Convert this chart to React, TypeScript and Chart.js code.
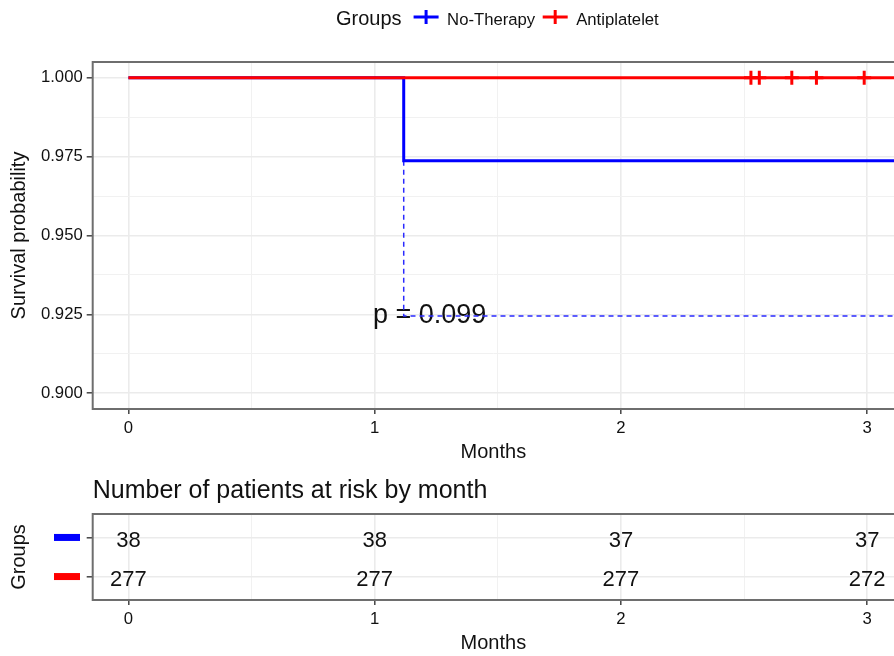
import React, { useEffect, useRef } from 'react';
import { Chart, registerables } from 'chart.js';

Chart.register(...registerables);

// ---------- data ----------
const MONTH_TICKS = [0, 1, 2, 3];
const MONTH_TICK_LABELS = ['0', '1', '2', '3'];
const MONTH_MINOR = [0.5, 1.5, 2.5];

const SURV_TICKS = [0.9, 0.925, 0.95, 0.975, 1.0];
const SURV_TICK_LABELS = ['0.900', '0.925', '0.950', '0.975', '1.000'];
const SURV_MINOR = [0.9125, 0.9375, 0.9625, 0.9875];

const GROUPS = ['No-Therapy', 'Antiplatelet'];

const NO_THERAPY_TIME = [0, 1.118, 3.4];
const NO_THERAPY_SURV = [1.0, 0.9737, 0.9737];

const ANTIPLATELET_TIME = [0, 3.4];
const ANTIPLATELET_SURV = [1.0, 1.0];
const ANTIPLATELET_CENSOR_TIME = [2.528, 2.562, 2.694, 2.794, 2.988];
const ANTIPLATELET_CENSOR_SURV = [1.0, 1.0, 1.0, 1.0, 1.0];

const GUIDE_TIME = [1.118, 1.118, 3.4];
const GUIDE_SURV = [0.9737, 0.9245, 0.9245];

const P_VALUE_LABEL = 'p = 0.099';
const P_VALUE_POS = { x: 0.993, y: 0.9245 };

const RISK_MONTHS = [0, 1, 2, 3];
const RISK_NO_THERAPY = [38, 38, 37, 37];
const RISK_ANTIPLATELET = [277, 277, 277, 272];
const RISK_TITLE = 'Number of patients at risk by month';

// ---------- styles ----------
const FONT = "'Liberation Sans', Arial, Helvetica, sans-serif";
const BLUE = '#0000FF';
const RED = '#FF0000';
const TEXT = '#111111';
const GRID = '#EBEBEB';
const BORDER = '#6E6E6E';
const TICK = '#444444';
const X_MIN = -0.145;
const X_MAX = 3.109;

const isIn = (arr: number[], v: number) => arr.some((a) => Math.abs(a - v) < 1e-6);

function xScale(height: number, titlePadBottom: number) {
  return {
    type: 'linear' as const,
    min: X_MIN,
    max: X_MAX,
    afterBuildTicks: (s: any) => {
      s.ticks = [...MONTH_TICKS, ...MONTH_MINOR].sort((a, b) => a - b).map((v) => ({ value: v }));
    },
    afterFit: (s: any) => {
      s.height = height;
    },
    ticks: {
      autoSkip: false,
      maxRotation: 0,
      padding: 4,
      color: TEXT,
      font: { size: 16.7, family: FONT },
      callback: (v: any) => {
        const i = MONTH_TICKS.findIndex((m) => Math.abs(m - v) < 1e-6);
        return i >= 0 ? MONTH_TICK_LABELS[i] : '';
      },
    },
    grid: {
      color: (c: any) => (isIn(MONTH_TICKS, c.tick?.value) ? GRID : '#F1F1F1'),
      lineWidth: (c: any) => (isIn(MONTH_TICKS, c.tick?.value) ? 1.6 : 1),
      tickColor: (c: any) => (isIn(MONTH_TICKS, c.tick?.value) ? TICK : 'rgba(0,0,0,0)'),
      tickLength: 5,
      tickWidth: 1.5,
    },
    border: { display: false },
    title: {
      display: true,
      text: 'Months',
      color: TEXT,
      font: { size: 20, family: FONT },
      padding: { top: 0, bottom: titlePadBottom },
    },
  };
}

function panelBorder(ctx: CanvasRenderingContext2D, a: any) {
  ctx.save();
  ctx.strokeStyle = BORDER;
  ctx.lineWidth = 2;
  ctx.beginPath();
  ctx.moveTo(a.right + 5, a.top);
  ctx.lineTo(a.left, a.top);
  ctx.lineTo(a.left, a.bottom);
  ctx.lineTo(a.right + 5, a.bottom);
  ctx.stroke();
  ctx.restore();
}

const kmPlugin = {
  id: 'kmDecor',
  beforeDatasetsDraw(chart: any) {
    const { ctx, scales } = chart;
    ctx.save();
    ctx.fillStyle = TEXT;
    ctx.font = `27px ${FONT}`;
    ctx.textAlign = 'left';
    ctx.textBaseline = 'middle';
    ctx.fillText(P_VALUE_LABEL, scales.x.getPixelForValue(P_VALUE_POS.x), scales.y.getPixelForValue(P_VALUE_POS.y));
    ctx.restore();
  },
  afterDatasetsDraw(chart: any) {
    const { ctx, chartArea } = chart;
    panelBorder(ctx, chartArea);
    // legend
    ctx.save();
    ctx.fillStyle = TEXT;
    ctx.textBaseline = 'alphabetic';
    ctx.textAlign = 'left';
    let x = 336;
    const baseline = 24.5;
    const cy = 17;
    ctx.font = `20px ${FONT}`;
    ctx.fillText('Groups', x, baseline);
    x += ctx.measureText('Groups').width + 12;
    const colors = [BLUE, RED];
    ctx.font = `16.7px ${FONT}`;
    GROUPS.forEach((g, i) => {
      ctx.strokeStyle = colors[i];
      ctx.lineWidth = 3;
      ctx.beginPath();
      ctx.moveTo(x, cy);
      ctx.lineTo(x + 25, cy);
      ctx.moveTo(x + 12.5, cy - 7);
      ctx.lineTo(x + 12.5, cy + 7);
      ctx.stroke();
      x += 25 + 8.5;
      ctx.fillText(g, x, baseline);
      x += ctx.measureText(g).width + 7.5;
    });
    ctx.restore();
  },
};

const riskPlugin = {
  id: 'riskDecor',
  afterDatasetsDraw(chart: any) {
    const { ctx, chartArea, scales } = chart;
    ctx.save();
    ctx.fillStyle = TEXT;
    ctx.font = `22px ${FONT}`;
    ctx.textAlign = 'center';
    ctx.textBaseline = 'middle';
    chart.data.datasets.forEach((ds: any, di: number) => {
      const meta = chart.getDatasetMeta(di);
      meta.data.forEach((el: any, i: number) => {
        ctx.fillText(String(ds.data[i].n), el.x, el.y + 3);
      });
    });
    // title
    ctx.textAlign = 'left';
    ctx.textBaseline = 'alphabetic';
    ctx.font = `25px ${FONT}`;
    ctx.fillText(RISK_TITLE, chartArea.left, 28);
    // colored group keys as y tick labels
    const rows = [2, 1];
    const colors = [BLUE, RED];
    rows.forEach((r, i) => {
      const y = scales.y.getPixelForValue(r);
      ctx.fillStyle = colors[i];
      ctx.fillRect(54, y - 3.5, 26, 7);
    });
    ctx.restore();
    panelBorder(ctx, chartArea);
  },
};

export default function App() {
  const topRef = useRef<HTMLCanvasElement>(null);
  const botRef = useRef<HTMLCanvasElement>(null);

  useEffect(() => {
    Chart.defaults.font.family = FONT;
    const top = new Chart(topRef.current!, {
      type: 'line',
      data: {
        datasets: [
          {
            label: 'Antiplatelet',
            data: ANTIPLATELET_TIME.map((t, i) => ({ x: t, y: ANTIPLATELET_SURV[i] })),
            borderColor: RED,
            borderWidth: 3,
            stepped: true,
            pointRadius: 0,
            order: 1,
          },
          {
            label: 'Antiplatelet censored',
            type: 'scatter',
            data: ANTIPLATELET_CENSOR_TIME.map((t, i) => ({ x: t, y: ANTIPLATELET_CENSOR_SURV[i] })),
            pointStyle: 'cross',
            pointRadius: 7,
            borderColor: RED,
            backgroundColor: RED,
            borderWidth: 3,
            showLine: false,
            order: 0,
          },
          {
            label: 'No-Therapy',
            data: NO_THERAPY_TIME.map((t, i) => ({ x: t, y: NO_THERAPY_SURV[i] })),
            borderColor: BLUE,
            borderWidth: 3,
            stepped: true,
            pointRadius: 0,
            order: 2,
          },
          {
            label: 'guide',
            data: GUIDE_TIME.map((t, i) => ({ x: t, y: GUIDE_SURV[i] })),
            borderColor: '#2A2AFF',
            borderWidth: 1.5,
            borderDash: [5, 4],
            pointRadius: 0,
            order: 3,
          },
        ] as any,
      },
      options: {
        animation: false,
        responsive: false,
        maintainAspectRatio: false,
        layout: { autoPadding: false, padding: { top: 62, left: 0, right: 0, bottom: 0 } },
        plugins: { legend: { display: false }, tooltip: { enabled: false }, title: { display: false } },
        scales: {
          x: xScale(61, 5.5) as any,
          y: {
            type: 'linear',
            min: 0.895,
            max: 1.005,
            afterBuildTicks: (s: any) => {
              s.ticks = [...SURV_TICKS, ...SURV_MINOR].sort((a, b) => a - b).map((v) => ({ value: v }));
            },
            afterFit: (s: any) => {
              s.width = 92.7;
            },
            ticks: {
              autoSkip: false,
              padding: 4,
              color: TEXT,
              font: { size: 16.7, family: FONT },
              callback: (v: any) => {
                const i = SURV_TICKS.findIndex((m) => Math.abs(m - v) < 1e-6);
                return i >= 0 ? SURV_TICK_LABELS[i] : '';
              },
            },
            grid: {
              color: (c: any) => (isIn(SURV_TICKS, c.tick?.value) ? GRID : '#F1F1F1'),
              lineWidth: (c: any) => (isIn(SURV_TICKS, c.tick?.value) ? 1.6 : 1),
              tickColor: (c: any) => (isIn(SURV_TICKS, c.tick?.value) ? TICK : 'rgba(0,0,0,0)'),
              tickLength: 6,
              tickWidth: 1.5,
            },
            border: { display: false },
            title: {
              display: true,
              text: 'Survival probability',
              color: TEXT,
              font: { size: 20, family: FONT },
              padding: { top: 7.5, bottom: 0 },
            },
          } as any,
        },
      },
      plugins: [kmPlugin],
    });

    const bot = new Chart(botRef.current!, {
      type: 'scatter',
      data: {
        datasets: [
          {
            label: GROUPS[0],
            data: RISK_MONTHS.map((m, i) => ({ x: m, y: 2, n: RISK_NO_THERAPY[i] })),
            pointRadius: 0,
            showLine: false,
          },
          {
            label: GROUPS[1],
            data: RISK_MONTHS.map((m, i) => ({ x: m, y: 1, n: RISK_ANTIPLATELET[i] })),
            pointRadius: 0,
            showLine: false,
          },
        ] as any,
      },
      options: {
        animation: false,
        responsive: false,
        maintainAspectRatio: false,
        layout: { autoPadding: false, padding: { top: 44, left: 0, right: 0, bottom: 0 } },
        plugins: { legend: { display: false }, tooltip: { enabled: false }, title: { display: false } },
        scales: {
          x: xScale(56, 1) as any,
          y: {
            type: 'linear',
            min: 0.4,
            max: 2.6,
            afterBuildTicks: (s: any) => {
              s.ticks = [1, 2].map((v) => ({ value: v }));
            },
            afterFit: (s: any) => {
              s.width = 92.7;
            },
            ticks: { autoSkip: false, padding: 4, callback: () => '' },
            grid: { color: GRID, lineWidth: 1.6, tickColor: TICK, tickLength: 6, tickWidth: 1.5 },
            border: { display: false },
            title: {
              display: true,
              text: 'Groups',
              color: TEXT,
              font: { size: 20, family: FONT },
              padding: { top: 7.5, bottom: 0 },
            },
          } as any,
        },
      },
      plugins: [riskPlugin],
    });

    return () => {
      top.destroy();
      bot.destroy();
    };
  }, []);

  return (
    <div style={{ position: 'absolute', left: 0, top: 0, width: 894, height: 656, overflow: 'hidden', background: '#fff' }}>
      <canvas ref={topRef} width={894} height={470} style={{ display: 'block' }} />
      <canvas ref={botRef} width={894} height={186} style={{ display: 'block' }} />
    </div>
  );
}
